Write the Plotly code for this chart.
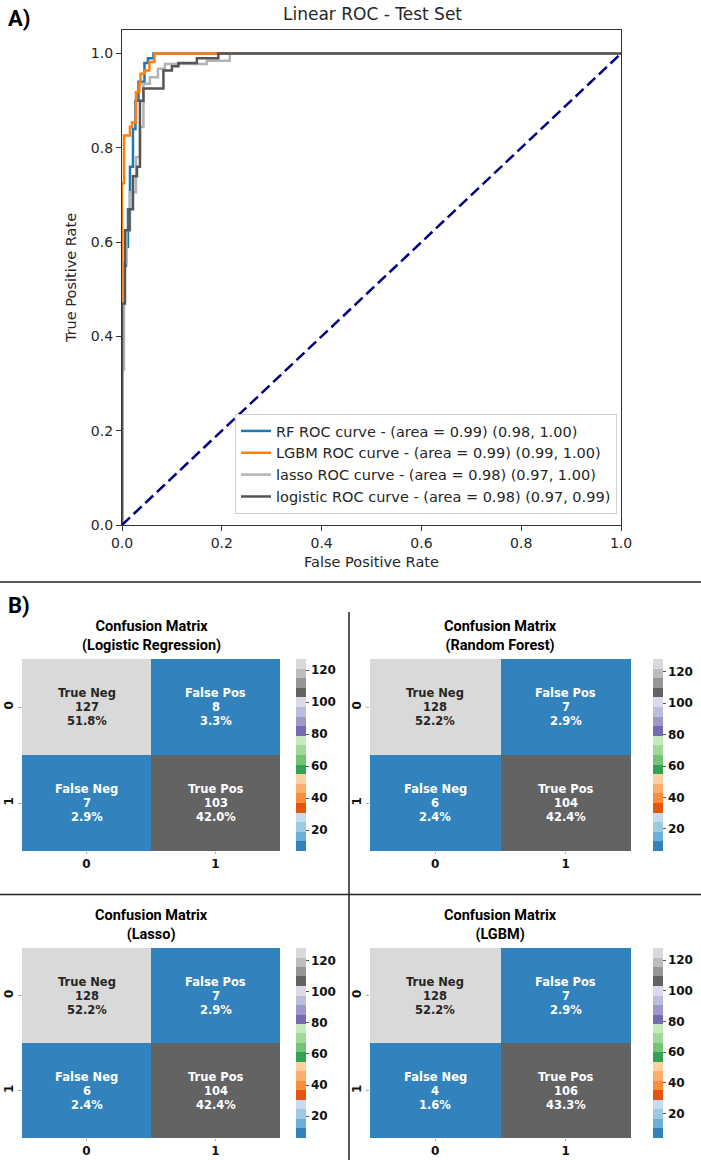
import plotly.graph_objects as go

W, H = 701, 1160

# ---------------- ROC data ----------------
rf_fpr = [0, 0, 0.008, 0.008, 0.012, 0.012, 0.016, 0.016, 0.022, 0.022, 0.027, 0.027,
          0.033, 0.033, 0.045, 0.045, 0.052, 0.052, 0.063, 0.063, 1.0]
rf_tpr = [0, 0.55, 0.55, 0.59, 0.59, 0.67, 0.67, 0.76, 0.76, 0.84, 0.84, 0.90,
          0.90, 0.94, 0.94, 0.98, 0.98, 0.99, 0.99, 1.0, 1.0]

lgbm_fpr = [0, 0, 0.004, 0.004, 0.016, 0.016, 0.02, 0.02, 0.028, 0.028, 0.035, 0.035,
            0.037, 0.037, 0.045, 0.045, 0.055, 0.055, 0.065, 0.065, 1.0]
lgbm_tpr = [0, 0.725, 0.725, 0.826, 0.826, 0.845, 0.845, 0.854, 0.854, 0.918, 0.918, 0.937,
            0.937, 0.957, 0.957, 0.964, 0.964, 0.982, 0.982, 1.0, 1.0]

lasso_fpr = [0, 0, 0.004, 0.004, 0.009, 0.009, 0.016, 0.016, 0.028, 0.028, 0.036, 0.036,
             0.043, 0.043, 0.056, 0.056, 0.072, 0.072, 0.086, 0.086, 0.17, 0.17, 0.216, 0.216, 1.0]
lasso_tpr = [0, 0.33, 0.33, 0.555, 0.555, 0.625, 0.625, 0.706, 0.706, 0.78, 0.78, 0.844,
             0.844, 0.936, 0.936, 0.95, 0.95, 0.968, 0.968, 0.978, 0.978, 0.985, 0.985, 1.0, 1.0]

log_fpr = [0, 0, 0.006, 0.006, 0.015, 0.015, 0.022, 0.022, 0.03, 0.03, 0.036, 0.036,
           0.043, 0.043, 0.083, 0.083, 0.1, 0.1, 0.113, 0.113, 0.15, 0.15, 0.193, 0.193, 1.0]
log_tpr = [0, 0.47, 0.47, 0.625, 0.625, 0.67, 0.67, 0.74, 0.74, 0.76, 0.76, 0.90,
           0.90, 0.926, 0.926, 0.964, 0.964, 0.973, 0.973, 0.98, 0.98, 0.99, 0.99, 1.0, 1.0]

roc_names = ["RF ROC curve - (area = 0.99) (0.98, 1.00)",
             "LGBM ROC curve - (area = 0.99) (0.99, 1.00)",
             "lasso ROC curve - (area = 0.98) (0.97, 1.00)",
             "logistic ROC curve - (area = 0.98) (0.97, 0.99)"]
roc_colors = ["#1f77b4", "#ff7f0e", "#b3b3b3", "#555555"]

# ---------------- confusion matrix data ----------------
cm_titles = ["Confusion Matrix<br>(Logistic Regression)", "Confusion Matrix<br>(Random Forest)",
             "Confusion Matrix<br>(Lasso)", "Confusion Matrix<br>(LGBM)"]
cm_values = [
    [[127, 8], [7, 103]],
    [[128, 7], [6, 104]],
    [[128, 7], [6, 104]],
    [[128, 7], [4, 106]],
]
cell_names = [["True Neg", "False Pos"], ["False Neg", "True Pos"]]
tick_labels = ["0", "1"]
cbar_ticks = [20, 40, 60, 80, 100, 120]

tab20c = ['#3182bd', '#6baed6', '#9ecae1', '#c6dbef',
          '#e6550d', '#fd8d3c', '#fdae6b', '#fdd0a2',
          '#31a354', '#74c476', '#a1d99b', '#c7e9c0',
          '#756bb1', '#9e9ac8', '#bcbddc', '#dadaeb',
          '#636363', '#969696', '#bdbdbd', '#d9d9d9']


def px_x(p):
    return p / W


def px_y(p):
    return 1 - p / H


def lum(hexc):
    r, g, b = (int(hexc[i:i + 2], 16) / 255 for i in (1, 3, 5))
    f = lambda c: c / 12.92 if c <= 0.03928 else ((c + 0.055) / 1.055) ** 2.4
    return 0.2126 * f(r) + 0.7152 * f(g) + 0.0722 * f(b)


colorscale = []
for i, c in enumerate(tab20c):
    colorscale.append([i / 20, c])
    colorscale.append([(i + 1) / 20, c])

fig = go.Figure()

TXT = "#262626"
FONT = "DejaVu Sans"

# ROC curves
for fx, ty, name, col in zip([rf_fpr, lgbm_fpr, lasso_fpr, log_fpr],
                             [rf_tpr, lgbm_tpr, lasso_tpr, log_tpr],
                             roc_names, roc_colors):
    fig.add_trace(go.Scatter(x=fx, y=ty, mode="lines", name=name,
                             line=dict(color=col, width=2.5), legendgroup=name,
                             xaxis="x", yaxis="y"))
fig.add_trace(go.Scatter(x=[0, 1], y=[0, 1], mode="lines", showlegend=False,
                         line=dict(color="#000080", width=2.5, dash="11px,5px"),
                         xaxis="x", yaxis="y"))

layout = dict(
    width=W, height=H, margin=dict(l=0, r=0, t=0, b=0, autoexpand=False),
    paper_bgcolor="white", plot_bgcolor="white",
    showlegend=True,
    legend=dict(x=px_x(617), xanchor="right", y=px_y(514), yanchor="bottom",
                bgcolor="rgba(255,255,255,0.85)", bordercolor="#d0d0d0", borderwidth=1,
                font=dict(family=FONT, size=14.5, color=TXT), tracegroupgap=0,
                itemwidth=30),
    xaxis=dict(domain=[px_x(122), px_x(621)], anchor="y", range=[0, 1],
               tickvals=[0, 0.2, 0.4, 0.6, 0.8, 1.0], tickformat=".1f",
               showgrid=False, zeroline=False, showline=True, mirror=True,
               linecolor="#333", linewidth=1.2, ticks="outside", ticklen=5,
               tickcolor="#333", tickfont=dict(family=FONT, size=14, color=TXT),
               title=dict(text="False Positive Rate", standoff=6,
                          font=dict(family=FONT, size=14.5, color=TXT))),
    yaxis=dict(domain=[px_y(525), px_y(30)], anchor="x", range=[0, 1.05],
               tickvals=[0, 0.2, 0.4, 0.6, 0.8, 1.0], tickformat=".1f",
               showgrid=False, zeroline=False, showline=True, mirror=True,
               linecolor="#333", linewidth=1.2, ticks="outside", ticklen=5,
               tickcolor="#333", tickfont=dict(family=FONT, size=14, color=TXT),
               title=dict(text="True Positive Rate", standoff=10,
                          font=dict(family=FONT, size=14.5, color=TXT))),
)

annotations = [
    dict(text="Linear ROC - Test Set", x=px_x(372), y=px_y(14), xref="paper", yref="paper",
         showarrow=False, xanchor="center", yanchor="middle",
         font=dict(family=FONT, size=17, color=TXT)),
    dict(text="<b>A)</b>", x=px_x(6), y=px_y(19), xref="paper", yref="paper",
         showarrow=False, xanchor="left", yanchor="middle",
         font=dict(family="Roboto", size=22, color="black")),
    dict(text="<b>B)</b>", x=px_x(6), y=px_y(605), xref="paper", yref="paper",
         showarrow=False, xanchor="left", yanchor="middle",
         font=dict(family="Roboto", size=22, color="black")),
]

# heatmap placements (pixels)
hm_x = [(22, 280), (370, 631), (22, 280), (370, 631)]
hm_y = [(659, 851), (659, 851), (948, 1138), (948, 1138)]
cb_x = [296, 653, 296, 653]

for k in range(4):
    ax = k + 2
    z = cm_values[k]
    flat = [v for row in z for v in row]
    zmin, zmax = min(flat), max(flat)
    total = sum(flat)
    x0, x1 = hm_x[k]
    y0, y1 = hm_y[k]
    fig.add_trace(go.Heatmap(
        z=z, x=[0, 1], y=[0, 1], zmin=zmin, zmax=zmax, colorscale=colorscale,
        xaxis=f"x{ax}", yaxis=f"y{ax}", hoverinfo="skip",
        colorbar=dict(x=px_x(cb_x[k]), xanchor="left", xpad=0, ypad=0,
                      y=px_y((y0 + y1) / 2), yanchor="middle",
                      len=(y1 - y0) / H, lenmode="fraction",
                      thickness=10, thicknessmode="pixels", outlinewidth=0,
                      tickvals=cbar_ticks, ticks="outside", ticklen=3, tickcolor="#555",
                      tickfont=dict(family=FONT, size=12, color="#111", weight="bold"))))
    layout[f"xaxis{ax}"] = dict(domain=[px_x(x0), px_x(x1)], anchor=f"y{ax}",
                                range=[-0.5, 1.5], tickvals=[0, 1], ticktext=tick_labels,
                                showgrid=False, zeroline=False, showline=False,
                                ticks="outside", ticklen=2, tickcolor="#aaa",
                                tickfont=dict(family=FONT, size=12, color="#111", weight="bold"))
    layout[f"yaxis{ax}"] = dict(domain=[px_y(y1), px_y(y0)], anchor=f"x{ax}",
                                range=[1.5, -0.5], tickvals=[0, 1], ticktext=tick_labels,
                                tickangle=-90,
                                showgrid=False, zeroline=False, showline=False,
                                ticks="outside", ticklen=3, tickcolor="#aaa",
                                tickfont=dict(family=FONT, size=12, color="#111", weight="bold"))
    annotations.append(dict(text=f"<b>{cm_titles[k]}</b>", x=px_x((x0 + x1) / 2),
                            y=px_y(y0 - 23), xref="paper", yref="paper", showarrow=False,
                            xanchor="center", yanchor="middle",
                            font=dict(family="Roboto", size=14.5, color="black")))
    for r in range(2):
        for c in range(2):
            v = z[r][c]
            idx = min(int((v - zmin) / (zmax - zmin) * 20), 19)
            tc = TXT if lum(tab20c[idx]) > 0.408 else "white"
            lines = [cell_names[r][c], f"{v}", f"{v / total * 100:.1f}%"]
            for li, t in enumerate(lines):
                annotations.append(dict(text=f"<b>{t}</b>", x=c, y=r, xref=f"x{ax}",
                                        yref=f"y{ax}", showarrow=False,
                                        xanchor="center", yanchor="middle",
                                        yshift=14 * (1 - li),
                                        font=dict(family=FONT, size=11.5, color=tc)))

layout["annotations"] = annotations
layout["shapes"] = [
    dict(type="line", xref="paper", yref="paper", x0=0, x1=1, y0=px_y(582), y1=px_y(582),
         line=dict(color="#222", width=1.5)),
    dict(type="line", xref="paper", yref="paper", x0=0, x1=1, y0=px_y(894.5), y1=px_y(894.5),
         line=dict(color="#222", width=1.5)),
    dict(type="line", xref="paper", yref="paper", x0=px_x(349), x1=px_x(349),
         y0=px_y(612), y1=0, line=dict(color="#222", width=1.5)),
]

fig.update_layout(**layout)
fig.write_html("out.html")
